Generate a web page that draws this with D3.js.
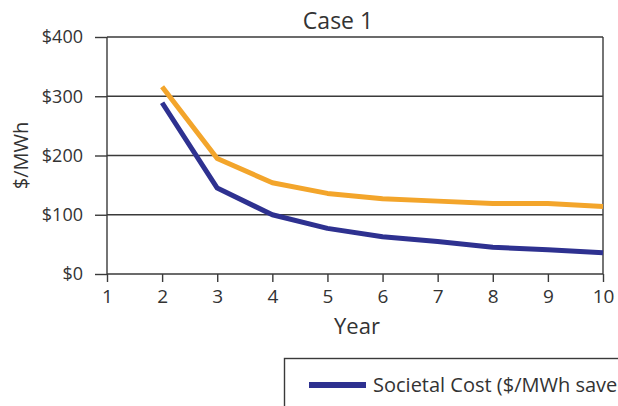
<!DOCTYPE html>
<html>
<head>
<meta charset="utf-8">
<script src="https://cdn.jsdelivr.net/npm/d3@7"></script>
<style>
  html, body { margin: 0; padding: 0; background: #fff; }
  svg { display: block; }
  text { font-family: "Open Sans", "Noto Sans", sans-serif; fill: #333; }
</style>
</head>
<body>
<svg id="chart" width="618" height="406"></svg>
<script>
const years = [2, 3, 4, 5, 6, 7, 8, 9, 10];
const societalCost = [289, 145, 100, 77, 63, 55, 45, 41, 36];
const otherCost = [316, 195, 154, 136, 127, 123, 119, 119, 114];
const xTicks = [1, 2, 3, 4, 5, 6, 7, 8, 9, 10];
const yTicks = [0, 100, 200, 300, 400];
const yTickLabels = ["$0", "$100", "$200", "$300", "$400"];
const legendLabels = ["Societal Cost ($/MWh saved)"];

const svg = d3.select("#chart");
const m = { left: 107, top: 37, right: 15, bottom: 132 };
const W = 618, H = 406;
const w = W - m.left - m.right; // 496
const h = H - m.top - m.bottom; // 237

const x = d3.scaleLinear().domain([1, 10]).range([0, w]);
const y = d3.scaleLinear().domain([0, 400]).range([h, 0]);

const g = svg.append("g").attr("transform", `translate(${m.left},${m.top})`);
const axisColor = "#3a3a3a";

// grid lines
g.selectAll(".grid").data(yTicks.filter(d => d > 0)).join("line")
  .attr("x1", 0).attr("x2", w)
  .attr("y1", d => y(d)).attr("y2", d => y(d))
  .attr("stroke", axisColor).attr("stroke-width", 1.4);

// right border
g.append("line").attr("x1", w).attr("x2", w).attr("y1", 0).attr("y2", h)
  .attr("stroke", axisColor).attr("stroke-width", 1.4);

// y axis
const yAxis = g.append("g").call(
  d3.axisLeft(y).tickValues(yTicks).tickSize(12).tickPadding(12)
    .tickFormat((d, i) => yTickLabels[i])
);
yAxis.select(".domain").attr("stroke", axisColor).attr("stroke-width", 1.4).attr("d", `M0,0V${h}`);
yAxis.selectAll(".tick line").attr("stroke", axisColor).attr("stroke-width", 1.4);
yAxis.selectAll(".tick text").attr("font-size", 18).attr("fill", "#333")
  .attr("font-family", '"Open Sans", sans-serif');

// x axis
const xAxis = g.append("g").attr("transform", `translate(0,${h})`).call(
  d3.axisBottom(x).tickValues(xTicks).tickSize(8).tickPadding(8).tickFormat(d3.format("d"))
);
xAxis.select(".domain").attr("stroke", axisColor).attr("stroke-width", 1.4).attr("d", `M0,0H${w}`);
xAxis.selectAll(".tick line").attr("stroke", axisColor).attr("stroke-width", 1.4);
xAxis.selectAll(".tick text").attr("font-size", 19).attr("fill", "#333")
  .attr("font-family", '"Open Sans", sans-serif');

// lines
const line = d3.line().x((d, i) => x(years[i])).y(d => y(d));
g.append("path").datum(otherCost).attr("d", line)
  .attr("fill", "none").attr("stroke", "#f3a52b").attr("stroke-width", 5)
  .attr("stroke-linejoin", "round");
g.append("path").datum(societalCost).attr("d", line)
  .attr("fill", "none").attr("stroke", "#2e3190").attr("stroke-width", 5)
  .attr("stroke-linejoin", "round");

// title
svg.append("text").attr("x", 338).attr("y", 29).attr("text-anchor", "middle")
  .attr("font-size", 23).text("Case 1");

// axis titles
svg.append("text").attr("x", 357).attr("y", 334).attr("text-anchor", "middle")
  .attr("font-size", 22).text("Year");
svg.append("text").attr("transform", `translate(28,${m.top + h / 2}) rotate(-90)`)
  .attr("text-anchor", "middle").attr("font-size", 20).text("$/MWh");

// legend
const lg = svg.append("g");
lg.append("rect").attr("x", 284.5).attr("y", 358.5).attr("width", 400).attr("height", 100)
  .attr("fill", "#fff").attr("stroke", axisColor).attr("stroke-width", 1.4);
lg.append("line").attr("x1", 309).attr("x2", 366).attr("y1", 385).attr("y2", 385)
  .attr("stroke", "#2e3190").attr("stroke-width", 6);
lg.append("text").attr("x", 373).attr("y", 392).attr("font-size", 20).text(legendLabels[0]);
</script>
</body>
</html>
